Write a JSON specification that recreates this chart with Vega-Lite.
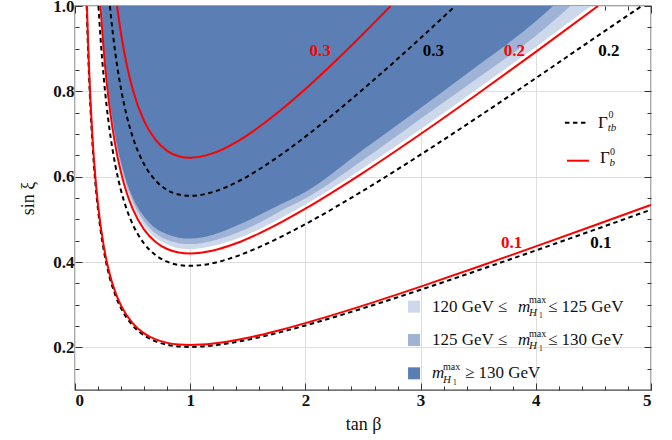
{
  "$schema": "https://vega.github.io/schema/vega-lite/v6.json",
  "width": 576,
  "height": 384,
  "autosize": "none",
  "padding": {"left": 75, "top": 6, "right": 21, "bottom": 50},
  "background": "white",
  "config": {
    "view": {"stroke": "#444444", "strokeWidth": 1.3},
    "font": "Liberation Serif",
    "text": {"font": "Liberation Serif"}
  },
  "resolve": {"axis": {"x": "independent", "y": "independent"}},
  "datasets": {
    "regions": [
      {"band": "light", "t": 0.222, "y": 1.0}, {"band": "light", "t": 0.25, "y": 0.899}, {"band": "light", "t": 0.275, "y": 0.828}, {"band": "light", "t": 0.3, "y": 0.770}, {"band": "light", "t": 0.35, "y": 0.681}, {"band": "light", "t": 0.4, "y": 0.617}, {"band": "light", "t": 0.45, "y": 0.569}, {"band": "light", "t": 0.5, "y": 0.533}, {"band": "light", "t": 0.6, "y": 0.485}, {"band": "light", "t": 0.7, "y": 0.456}, {"band": "light", "t": 0.8, "y": 0.441}, {"band": "light", "t": 0.9, "y": 0.432}, {"band": "light", "t": 1.0, "y": 0.430}, {"band": "light", "t": 1.2, "y": 0.438}, {"band": "light", "t": 1.4, "y": 0.454}, {"band": "light", "t": 1.6, "y": 0.477}, {"band": "light", "t": 1.8, "y": 0.505}, {"band": "light", "t": 2.0, "y": 0.535}, {"band": "light", "t": 2.5, "y": 0.620}, {"band": "light", "t": 3.0, "y": 0.711}, {"band": "light", "t": 3.5, "y": 0.807}, {"band": "light", "t": 4.0, "y": 0.904}, {"band": "light", "t": 4.48, "y": 1.0},
      {"band": "medium", "t": 0.228, "y": 1.0}, {"band": "medium", "t": 0.25, "y": 0.905}, {"band": "medium", "t": 0.275, "y": 0.834}, {"band": "medium", "t": 0.3, "y": 0.777}, {"band": "medium", "t": 0.35, "y": 0.688}, {"band": "medium", "t": 0.4, "y": 0.625}, {"band": "medium", "t": 0.45, "y": 0.578}, {"band": "medium", "t": 0.5, "y": 0.543}, {"band": "medium", "t": 0.6, "y": 0.495}, {"band": "medium", "t": 0.7, "y": 0.467}, {"band": "medium", "t": 0.8, "y": 0.452}, {"band": "medium", "t": 0.9, "y": 0.444}, {"band": "medium", "t": 1.0, "y": 0.442}, {"band": "medium", "t": 1.2, "y": 0.450}, {"band": "medium", "t": 1.4, "y": 0.468}, {"band": "medium", "t": 1.6, "y": 0.492}, {"band": "medium", "t": 1.8, "y": 0.522}, {"band": "medium", "t": 2.0, "y": 0.549}, {"band": "medium", "t": 2.5, "y": 0.639}, {"band": "medium", "t": 3.0, "y": 0.736}, {"band": "medium", "t": 3.5, "y": 0.832}, {"band": "medium", "t": 4.0, "y": 0.930}, {"band": "medium", "t": 4.3, "y": 1.0},
      {"band": "dark", "t": 0.233, "y": 1.0}, {"band": "dark", "t": 0.25, "y": 0.911}, {"band": "dark", "t": 0.275, "y": 0.840}, {"band": "dark", "t": 0.3, "y": 0.783}, {"band": "dark", "t": 0.35, "y": 0.695}, {"band": "dark", "t": 0.4, "y": 0.633}, {"band": "dark", "t": 0.45, "y": 0.586}, {"band": "dark", "t": 0.5, "y": 0.552}, {"band": "dark", "t": 0.6, "y": 0.506}, {"band": "dark", "t": 0.7, "y": 0.479}, {"band": "dark", "t": 0.8, "y": 0.465}, {"band": "dark", "t": 0.9, "y": 0.457}, {"band": "dark", "t": 1.0, "y": 0.455}, {"band": "dark", "t": 1.2, "y": 0.464}, {"band": "dark", "t": 1.4, "y": 0.485}, {"band": "dark", "t": 1.6, "y": 0.510}, {"band": "dark", "t": 1.8, "y": 0.537}, {"band": "dark", "t": 2.0, "y": 0.564}, {"band": "dark", "t": 2.5, "y": 0.663}, {"band": "dark", "t": 3.0, "y": 0.761}, {"band": "dark", "t": 3.5, "y": 0.861}, {"band": "dark", "t": 4.0, "y": 0.964}, {"band": "dark", "t": 4.15, "y": 1.0}
    ],
    "curves": [
      {"g": "tb0.1", "type": "tb", "t": 0.1015, "y": 1.0}, {"g": "tb0.1", "type": "tb", "t": 0.11, "y": 0.9247}, {"g": "tb0.1", "type": "tb", "t": 0.12, "y": 0.8496}, {"g": "tb0.1", "type": "tb", "t": 0.135, "y": 0.758}, {"g": "tb0.1", "type": "tb", "t": 0.15, "y": 0.6851}, {"g": "tb0.1", "type": "tb", "t": 0.175, "y": 0.5918}, {"g": "tb0.1", "type": "tb", "t": 0.2, "y": 0.5226}, {"g": "tb0.1", "type": "tb", "t": 0.25, "y": 0.4271}, {"g": "tb0.1", "type": "tb", "t": 0.3, "y": 0.3651}, {"g": "tb0.1", "type": "tb", "t": 0.35, "y": 0.3223}, {"g": "tb0.1", "type": "tb", "t": 0.4, "y": 0.2915}, {"g": "tb0.1", "type": "tb", "t": 0.5, "y": 0.2513}, {"g": "tb0.1", "type": "tb", "t": 0.6, "y": 0.2278}, {"g": "tb0.1", "type": "tb", "t": 0.7, "y": 0.214}, {"g": "tb0.1", "type": "tb", "t": 0.8, "y": 0.206}, {"g": "tb0.1", "type": "tb", "t": 0.9, "y": 0.2021}, {"g": "tb0.1", "type": "tb", "t": 1.0, "y": 0.201}, {"g": "tb0.1", "type": "tb", "t": 1.2, "y": 0.2043}, {"g": "tb0.1", "type": "tb", "t": 1.4, "y": 0.2125}, {"g": "tb0.1", "type": "tb", "t": 1.6, "y": 0.2236}, {"g": "tb0.1", "type": "tb", "t": 1.8, "y": 0.2368}, {"g": "tb0.1", "type": "tb", "t": 2.0, "y": 0.2513}, {"g": "tb0.1", "type": "tb", "t": 2.5, "y": 0.2915}, {"g": "tb0.1", "type": "tb", "t": 3.0, "y": 0.335}, {"g": "tb0.1", "type": "tb", "t": 3.5, "y": 0.3805}, {"g": "tb0.1", "type": "tb", "t": 4.0, "y": 0.4271}, {"g": "tb0.1", "type": "tb", "t": 4.5, "y": 0.4746}, {"g": "tb0.1", "type": "tb", "t": 5.0, "y": 0.5226},
      {"g": "b0.1", "type": "b", "t": 0.104, "y": 1.0}, {"g": "b0.1", "type": "b", "t": 0.11, "y": 0.945}, {"g": "b0.1", "type": "b", "t": 0.12, "y": 0.868}, {"g": "b0.1", "type": "b", "t": 0.135, "y": 0.7746}, {"g": "b0.1", "type": "b", "t": 0.15, "y": 0.7}, {"g": "b0.1", "type": "b", "t": 0.175, "y": 0.6048}, {"g": "b0.1", "type": "b", "t": 0.2, "y": 0.534}, {"g": "b0.1", "type": "b", "t": 0.25, "y": 0.4365}, {"g": "b0.1", "type": "b", "t": 0.3, "y": 0.3731}, {"g": "b0.1", "type": "b", "t": 0.35, "y": 0.3294}, {"g": "b0.1", "type": "b", "t": 0.4, "y": 0.2978}, {"g": "b0.1", "type": "b", "t": 0.5, "y": 0.2568}, {"g": "b0.1", "type": "b", "t": 0.6, "y": 0.2328}, {"g": "b0.1", "type": "b", "t": 0.7, "y": 0.2186}, {"g": "b0.1", "type": "b", "t": 0.8, "y": 0.2105}, {"g": "b0.1", "type": "b", "t": 0.9, "y": 0.2065}, {"g": "b0.1", "type": "b", "t": 1.0, "y": 0.2054}, {"g": "b0.1", "type": "b", "t": 1.2, "y": 0.2088}, {"g": "b0.1", "type": "b", "t": 1.4, "y": 0.2171}, {"g": "b0.1", "type": "b", "t": 1.6, "y": 0.2285}, {"g": "b0.1", "type": "b", "t": 1.8, "y": 0.242}, {"g": "b0.1", "type": "b", "t": 2.0, "y": 0.2568}, {"g": "b0.1", "type": "b", "t": 2.5, "y": 0.2978}, {"g": "b0.1", "type": "b", "t": 3.0, "y": 0.3423}, {"g": "b0.1", "type": "b", "t": 3.5, "y": 0.3888}, {"g": "b0.1", "type": "b", "t": 4.0, "y": 0.4365}, {"g": "b0.1", "type": "b", "t": 4.5, "y": 0.485}, {"g": "b0.1", "type": "b", "t": 5.0, "y": 0.534},
      {"g": "tb0.2", "type": "tb", "t": 0.204, "y": 1.0}, {"g": "tb0.2", "type": "tb", "t": 0.22, "y": 0.9316}, {"g": "tb0.2", "type": "tb", "t": 0.25, "y": 0.8309}, {"g": "tb0.2", "type": "tb", "t": 0.275, "y": 0.7646}, {"g": "tb0.2", "type": "tb", "t": 0.3, "y": 0.7102}, {"g": "tb0.2", "type": "tb", "t": 0.35, "y": 0.627}, {"g": "tb0.2", "type": "tb", "t": 0.4, "y": 0.567}, {"g": "tb0.2", "type": "tb", "t": 0.45, "y": 0.5224}, {"g": "tb0.2", "type": "tb", "t": 0.5, "y": 0.4888}, {"g": "tb0.2", "type": "tb", "t": 0.6, "y": 0.4432}, {"g": "tb0.2", "type": "tb", "t": 0.7, "y": 0.4162}, {"g": "tb0.2", "type": "tb", "t": 0.8, "y": 0.4008}, {"g": "tb0.2", "type": "tb", "t": 0.9, "y": 0.3931}, {"g": "tb0.2", "type": "tb", "t": 1.0, "y": 0.391}, {"g": "tb0.2", "type": "tb", "t": 1.2, "y": 0.3975}, {"g": "tb0.2", "type": "tb", "t": 1.4, "y": 0.4133}, {"g": "tb0.2", "type": "tb", "t": 1.6, "y": 0.435}, {"g": "tb0.2", "type": "tb", "t": 1.8, "y": 0.4606}, {"g": "tb0.2", "type": "tb", "t": 2.0, "y": 0.4888}, {"g": "tb0.2", "type": "tb", "t": 2.5, "y": 0.567}, {"g": "tb0.2", "type": "tb", "t": 3.0, "y": 0.6516}, {"g": "tb0.2", "type": "tb", "t": 3.5, "y": 0.7401}, {"g": "tb0.2", "type": "tb", "t": 4.0, "y": 0.8309}, {"g": "tb0.2", "type": "tb", "t": 4.5, "y": 0.9232}, {"g": "tb0.2", "type": "tb", "t": 4.92, "y": 1.0},
      {"g": "b0.2", "type": "b", "t": 0.2205, "y": 1.0}, {"g": "b0.2", "type": "b", "t": 0.25, "y": 0.8925}, {"g": "b0.2", "type": "b", "t": 0.275, "y": 0.8213}, {"g": "b0.2", "type": "b", "t": 0.3, "y": 0.763}, {"g": "b0.2", "type": "b", "t": 0.35, "y": 0.6735}, {"g": "b0.2", "type": "b", "t": 0.4, "y": 0.609}, {"g": "b0.2", "type": "b", "t": 0.45, "y": 0.5611}, {"g": "b0.2", "type": "b", "t": 0.5, "y": 0.525}, {"g": "b0.2", "type": "b", "t": 0.6, "y": 0.476}, {"g": "b0.2", "type": "b", "t": 0.7, "y": 0.4471}, {"g": "b0.2", "type": "b", "t": 0.8, "y": 0.4305}, {"g": "b0.2", "type": "b", "t": 0.9, "y": 0.4223}, {"g": "b0.2", "type": "b", "t": 1.0, "y": 0.42}, {"g": "b0.2", "type": "b", "t": 1.2, "y": 0.427}, {"g": "b0.2", "type": "b", "t": 1.4, "y": 0.4439}, {"g": "b0.2", "type": "b", "t": 1.6, "y": 0.4673}, {"g": "b0.2", "type": "b", "t": 1.8, "y": 0.4947}, {"g": "b0.2", "type": "b", "t": 2.0, "y": 0.525}, {"g": "b0.2", "type": "b", "t": 2.5, "y": 0.609}, {"g": "b0.2", "type": "b", "t": 3.0, "y": 0.7}, {"g": "b0.2", "type": "b", "t": 3.5, "y": 0.795}, {"g": "b0.2", "type": "b", "t": 4.0, "y": 0.8925}, {"g": "b0.2", "type": "b", "t": 4.54, "y": 1.0},
      {"g": "tb0.3", "type": "tb", "t": 0.303, "y": 1.0}, {"g": "tb0.3", "type": "tb", "t": 0.325, "y": 0.9441}, {"g": "tb0.3", "type": "tb", "t": 0.35, "y": 0.8899}, {"g": "tb0.3", "type": "tb", "t": 0.4, "y": 0.8048}, {"g": "tb0.3", "type": "tb", "t": 0.45, "y": 0.7415}, {"g": "tb0.3", "type": "tb", "t": 0.5, "y": 0.6938}, {"g": "tb0.3", "type": "tb", "t": 0.6, "y": 0.629}, {"g": "tb0.3", "type": "tb", "t": 0.7, "y": 0.5908}, {"g": "tb0.3", "type": "tb", "t": 0.8, "y": 0.5689}, {"g": "tb0.3", "type": "tb", "t": 0.9, "y": 0.5581}, {"g": "tb0.3", "type": "tb", "t": 1.0, "y": 0.555}, {"g": "tb0.3", "type": "tb", "t": 1.2, "y": 0.5642}, {"g": "tb0.3", "type": "tb", "t": 1.4, "y": 0.5866}, {"g": "tb0.3", "type": "tb", "t": 1.6, "y": 0.6174}, {"g": "tb0.3", "type": "tb", "t": 1.8, "y": 0.6538}, {"g": "tb0.3", "type": "tb", "t": 2.0, "y": 0.6938}, {"g": "tb0.3", "type": "tb", "t": 2.5, "y": 0.8048}, {"g": "tb0.3", "type": "tb", "t": 3.0, "y": 0.9249}, {"g": "tb0.3", "type": "tb", "t": 3.3, "y": 1.0},
      {"g": "b0.3", "type": "b", "t": 0.365, "y": 1.0}, {"g": "b0.3", "type": "b", "t": 0.4, "y": 0.9344}, {"g": "b0.3", "type": "b", "t": 0.45, "y": 0.861}, {"g": "b0.3", "type": "b", "t": 0.5, "y": 0.8055}, {"g": "b0.3", "type": "b", "t": 0.6, "y": 0.7303}, {"g": "b0.3", "type": "b", "t": 0.7, "y": 0.6862}, {"g": "b0.3", "type": "b", "t": 0.8, "y": 0.6605}, {"g": "b0.3", "type": "b", "t": 0.9, "y": 0.648}, {"g": "b0.3", "type": "b", "t": 1.0, "y": 0.6444}, {"g": "b0.3", "type": "b", "t": 1.2, "y": 0.6551}, {"g": "b0.3", "type": "b", "t": 1.4, "y": 0.6812}, {"g": "b0.3", "type": "b", "t": 1.6, "y": 0.7169}, {"g": "b0.3", "type": "b", "t": 1.8, "y": 0.759}, {"g": "b0.3", "type": "b", "t": 2.0, "y": 0.8055}, {"g": "b0.3", "type": "b", "t": 2.2, "y": 0.8553}, {"g": "b0.3", "type": "b", "t": 2.4, "y": 0.9075}, {"g": "b0.3", "type": "b", "t": 2.6, "y": 0.9617}, {"g": "b0.3", "type": "b", "t": 2.74, "y": 1.0},
      {"g": "legtb", "type": "tb", "t": 4.253, "y": 0.7265}, {"g": "legtb", "type": "tb", "t": 4.453, "y": 0.7265},
      {"g": "legb", "type": "b", "t": 4.271, "y": 0.6374}, {"g": "legb", "type": "b", "t": 4.462, "y": 0.6374}
    ],
    "curveLabels": [
      {"type": "b", "t": 2.127, "y": 0.8952, "s": "0.3"},
      {"type": "tb", "t": 3.111, "y": 0.8952, "s": "0.3"},
      {"type": "b", "t": 3.815, "y": 0.8952, "s": "0.2"},
      {"type": "tb", "t": 4.635, "y": 0.8952, "s": "0.2"},
      {"type": "b", "t": 3.791, "y": 0.4453, "s": "0.1"},
      {"type": "tb", "t": 4.565, "y": 0.4438, "s": "0.1"}
    ],
    "swatches": [
      {"band": "light", "t": 2.943, "y": 0.2953},
      {"band": "medium", "t": 2.943, "y": 0.2172},
      {"band": "dark", "t": 2.943, "y": 0.1391}
    ],
    "texts": [
      {"role": "main", "t": 3.099, "y": 0.2835, "s": "120 GeV ≤"},
      {"role": "main", "t": 4.106, "y": 0.2835, "s": "≤ 125 GeV"},
      {"role": "main", "t": 3.099, "y": 0.2055, "s": "125 GeV ≤"},
      {"role": "main", "t": 4.106, "y": 0.2055, "s": "≤ 130 GeV"},
      {"role": "main", "t": 3.385, "y": 0.1281, "s": "≥ 130 GeV"},
      {"role": "main", "t": 4.54, "y": 0.7134, "s": "Γ"},
      {"role": "main", "t": 4.557, "y": 0.6327, "s": "Γ"},
      {"role": "ital", "t": 3.845, "y": 0.2835, "s": "m"},
      {"role": "ital", "t": 3.845, "y": 0.2055, "s": "m"},
      {"role": "ital", "t": 3.099, "y": 0.1281, "s": "m"},
      {"role": "sup", "t": 3.941, "y": 0.3032, "s": "max"},
      {"role": "sup", "t": 3.941, "y": 0.2252, "s": "max"},
      {"role": "sup", "t": 3.194, "y": 0.1469, "s": "max"},
      {"role": "sup", "t": 4.63, "y": 0.7375, "s": "0"},
      {"role": "sup", "t": 4.645, "y": 0.6508, "s": "0"},
      {"role": "subital", "t": 3.941, "y": 0.2734, "s": "H"},
      {"role": "subital", "t": 3.941, "y": 0.1954, "s": "H"},
      {"role": "subital", "t": 3.194, "y": 0.1172, "s": "H"},
      {"role": "subital", "t": 4.625, "y": 0.707, "s": "tb"},
      {"role": "subital", "t": 4.64, "y": 0.625, "s": "b"},
      {"role": "subsub", "t": 4.028, "y": 0.2688, "s": "1"},
      {"role": "subsub", "t": 4.028, "y": 0.1908, "s": "1"},
      {"role": "subsub", "t": 3.281, "y": 0.1125, "s": "1"}
    ]
  },
  "layer": [
    {
      "data": {"name": "regions"},
      "transform": [{"filter": "datum.band === 'light'"}],
      "mark": {"type": "area", "color": "#cdd9eb", "clip": true, "interpolate": "monotone"},
      "encoding": {
        "x": {"field": "t", "type": "quantitative", "scale": {"domain": [0, 5], "nice": false, "zero": false},
          "axis": {"orient": "bottom", "values": [0, 0.2, 0.4, 0.6, 0.8, 1, 1.2, 1.4, 1.6, 1.8, 2, 2.2, 2.4, 2.6, 2.8, 3, 3.2, 3.4, 3.6, 3.8, 4, 4.2, 4.4, 4.6, 4.8, 5],
            "labelExpr": "abs(datum.value - round(datum.value)) < 0.01 ? format(datum.value, 'd') : ''",
            "tickSize": {"condition": {"test": "abs(datum.value - round(datum.value)) < 0.01", "value": -7}, "value": -4},
            "tickColor": "#333333", "tickWidth": 1,
            "grid": true,
            "gridColor": {"condition": {"test": "abs(datum.value - round(datum.value)) < 0.01", "value": "#dedede"}, "value": "rgba(0,0,0,0)"},
            "gridWidth": 1,
            "domain": false,
            "labelFont": "Liberation Serif", "labelFontSize": 17, "labelFontWeight": "bold", "labelColor": "#111111", "labelPadding": 9,
            "title": "tan β", "titleFont": "Liberation Serif", "titleFontSize": 18, "titleFontWeight": "normal", "titleColor": "#111111", "titlePadding": 7}},
        "y": {"field": "y", "type": "quantitative", "scale": {"domain": [0.1, 1.0], "nice": false, "zero": false},
          "axis": {"orient": "left", "values": [0.15, 0.2, 0.25, 0.3, 0.35, 0.4, 0.45, 0.5, 0.55, 0.6, 0.65, 0.7, 0.75, 0.8, 0.85, 0.9, 0.95, 1.0],
            "labelExpr": "abs(datum.value * 5 - round(datum.value * 5)) < 0.01 ? format(datum.value, '.1f') : ''",
            "tickSize": {"condition": {"test": "abs(datum.value * 5 - round(datum.value * 5)) < 0.01", "value": -7}, "value": -4},
            "tickColor": "#333333", "tickWidth": 1,
            "grid": true,
            "gridColor": {"condition": {"test": "abs(datum.value * 5 - round(datum.value * 5)) < 0.01", "value": "#dedede"}, "value": "rgba(0,0,0,0)"},
            "gridWidth": 1,
            "domain": false,
            "labelFont": "Liberation Serif", "labelFontSize": 17, "labelFontWeight": "bold", "labelColor": "#111111", "labelPadding": 8,
            "title": "sin ξ", "titleFont": "Liberation Serif", "titleFontSize": 18, "titleFontWeight": "normal", "titleColor": "#111111", "titlePadding": 15}},
        "y2": {"datum": 1.0}
      }
    },
    {
      "data": {"name": "regions"},
      "transform": [{"filter": "datum.band === 'medium'"}],
      "mark": {"type": "area", "color": "#9fb3d6", "clip": true, "interpolate": "monotone"},
      "encoding": {
        "x": {"field": "t", "type": "quantitative", "axis": null},
        "y": {"field": "y", "type": "quantitative", "axis": null},
        "y2": {"datum": 1.0}
      }
    },
    {
      "data": {"name": "regions"},
      "transform": [{"filter": "datum.band === 'dark'"}],
      "mark": {"type": "area", "color": "#5b7fb4", "clip": true, "interpolate": "monotone"},
      "encoding": {
        "x": {"field": "t", "type": "quantitative",
          "axis": {"orient": "top", "values": [0, 0.2, 0.4, 0.6, 0.8, 1, 1.2, 1.4, 1.6, 1.8, 2, 2.2, 2.4, 2.6, 2.8, 3, 3.2, 3.4, 3.6, 3.8, 4, 4.2, 4.4, 4.6, 4.8, 5],
            "labels": false, "title": null, "grid": false, "domain": false,
            "tickSize": {"condition": {"test": "abs(datum.value - round(datum.value)) < 0.01", "value": -7}, "value": -4},
            "tickColor": "#333333", "tickWidth": 1}},
        "y": {"field": "y", "type": "quantitative",
          "axis": {"orient": "right", "values": [0.15, 0.2, 0.25, 0.3, 0.35, 0.4, 0.45, 0.5, 0.55, 0.6, 0.65, 0.7, 0.75, 0.8, 0.85, 0.9, 0.95, 1.0],
            "labels": false, "title": null, "grid": false, "domain": false,
            "tickSize": {"condition": {"test": "abs(datum.value * 5 - round(datum.value * 5)) < 0.01", "value": -7}, "value": -4},
            "tickColor": "#333333", "tickWidth": 1}},
        "y2": {"datum": 1.0}
      }
    },
    {
      "data": {"name": "curves"},
      "transform": [{"filter": "datum.type === 'tb'"}],
      "mark": {"type": "line", "color": "#000000", "strokeWidth": 2, "strokeDash": [4.5, 3.5], "clip": true, "interpolate": "monotone"},
      "encoding": {
        "x": {"field": "t", "type": "quantitative", "axis": null},
        "y": {"field": "y", "type": "quantitative", "axis": null},
        "detail": {"field": "g"}
      }
    },
    {
      "data": {"name": "curves"},
      "transform": [{"filter": "datum.type === 'b'"}],
      "mark": {"type": "line", "color": "#ff0000", "strokeWidth": 2, "clip": true, "interpolate": "monotone"},
      "encoding": {
        "x": {"field": "t", "type": "quantitative", "axis": null},
        "y": {"field": "y", "type": "quantitative", "axis": null},
        "detail": {"field": "g"}
      }
    },
    {
      "data": {"name": "swatches"},
      "transform": [{"filter": "datum.band === 'light'"}],
      "mark": {"type": "square", "size": 144, "color": "#cdd9eb", "opacity": 1},
      "encoding": {
        "x": {"field": "t", "type": "quantitative", "axis": null},
        "y": {"field": "y", "type": "quantitative", "axis": null}
      }
    },
    {
      "data": {"name": "swatches"},
      "transform": [{"filter": "datum.band === 'medium'"}],
      "mark": {"type": "square", "size": 144, "color": "#9fb3d6", "opacity": 1},
      "encoding": {
        "x": {"field": "t", "type": "quantitative", "axis": null},
        "y": {"field": "y", "type": "quantitative", "axis": null}
      }
    },
    {
      "data": {"name": "swatches"},
      "transform": [{"filter": "datum.band === 'dark'"}],
      "mark": {"type": "square", "size": 144, "color": "#5b7fb4", "opacity": 1},
      "encoding": {
        "x": {"field": "t", "type": "quantitative", "axis": null},
        "y": {"field": "y", "type": "quantitative", "axis": null}
      }
    },
    {
      "data": {"name": "curveLabels"},
      "transform": [{"filter": "datum.type === 'b'"}],
      "mark": {"type": "text", "color": "#ff0000", "font": "Liberation Serif", "fontSize": 17, "fontWeight": "bold", "align": "center", "baseline": "middle"},
      "encoding": {
        "x": {"field": "t", "type": "quantitative", "axis": null},
        "y": {"field": "y", "type": "quantitative", "axis": null},
        "text": {"field": "s"}
      }
    },
    {
      "data": {"name": "curveLabels"},
      "transform": [{"filter": "datum.type === 'tb'"}],
      "mark": {"type": "text", "color": "#000000", "font": "Liberation Serif", "fontSize": 17, "fontWeight": "bold", "align": "center", "baseline": "middle"},
      "encoding": {
        "x": {"field": "t", "type": "quantitative", "axis": null},
        "y": {"field": "y", "type": "quantitative", "axis": null},
        "text": {"field": "s"}
      }
    },
    {
      "data": {"name": "texts"},
      "transform": [{"filter": "datum.role === 'main'"}],
      "mark": {"type": "text", "color": "#111111", "font": "Liberation Serif", "fontSize": 17, "align": "left", "baseline": "alphabetic"},
      "encoding": {
        "x": {"field": "t", "type": "quantitative", "axis": null},
        "y": {"field": "y", "type": "quantitative", "axis": null},
        "text": {"field": "s"}
      }
    },
    {
      "data": {"name": "texts"},
      "transform": [{"filter": "datum.role === 'ital'"}],
      "mark": {"type": "text", "color": "#111111", "font": "Liberation Serif", "fontSize": 17, "fontStyle": "italic", "align": "left", "baseline": "alphabetic"},
      "encoding": {
        "x": {"field": "t", "type": "quantitative", "axis": null},
        "y": {"field": "y", "type": "quantitative", "axis": null},
        "text": {"field": "s"}
      }
    },
    {
      "data": {"name": "texts"},
      "transform": [{"filter": "datum.role === 'sup'"}],
      "mark": {"type": "text", "color": "#111111", "font": "Liberation Serif", "fontSize": 10, "align": "left", "baseline": "alphabetic"},
      "encoding": {
        "x": {"field": "t", "type": "quantitative", "axis": null},
        "y": {"field": "y", "type": "quantitative", "axis": null},
        "text": {"field": "s"}
      }
    },
    {
      "data": {"name": "texts"},
      "transform": [{"filter": "datum.role === 'subital'"}],
      "mark": {"type": "text", "color": "#111111", "font": "Liberation Serif", "fontSize": 11, "fontStyle": "italic", "align": "left", "baseline": "alphabetic"},
      "encoding": {
        "x": {"field": "t", "type": "quantitative", "axis": null},
        "y": {"field": "y", "type": "quantitative", "axis": null},
        "text": {"field": "s"}
      }
    },
    {
      "data": {"name": "texts"},
      "transform": [{"filter": "datum.role === 'subsub'"}],
      "mark": {"type": "text", "color": "#111111", "font": "Liberation Serif", "fontSize": 7.5, "align": "left", "baseline": "alphabetic"},
      "encoding": {
        "x": {"field": "t", "type": "quantitative", "axis": null},
        "y": {"field": "y", "type": "quantitative", "axis": null},
        "text": {"field": "s"}
      }
    }
  ]
}
